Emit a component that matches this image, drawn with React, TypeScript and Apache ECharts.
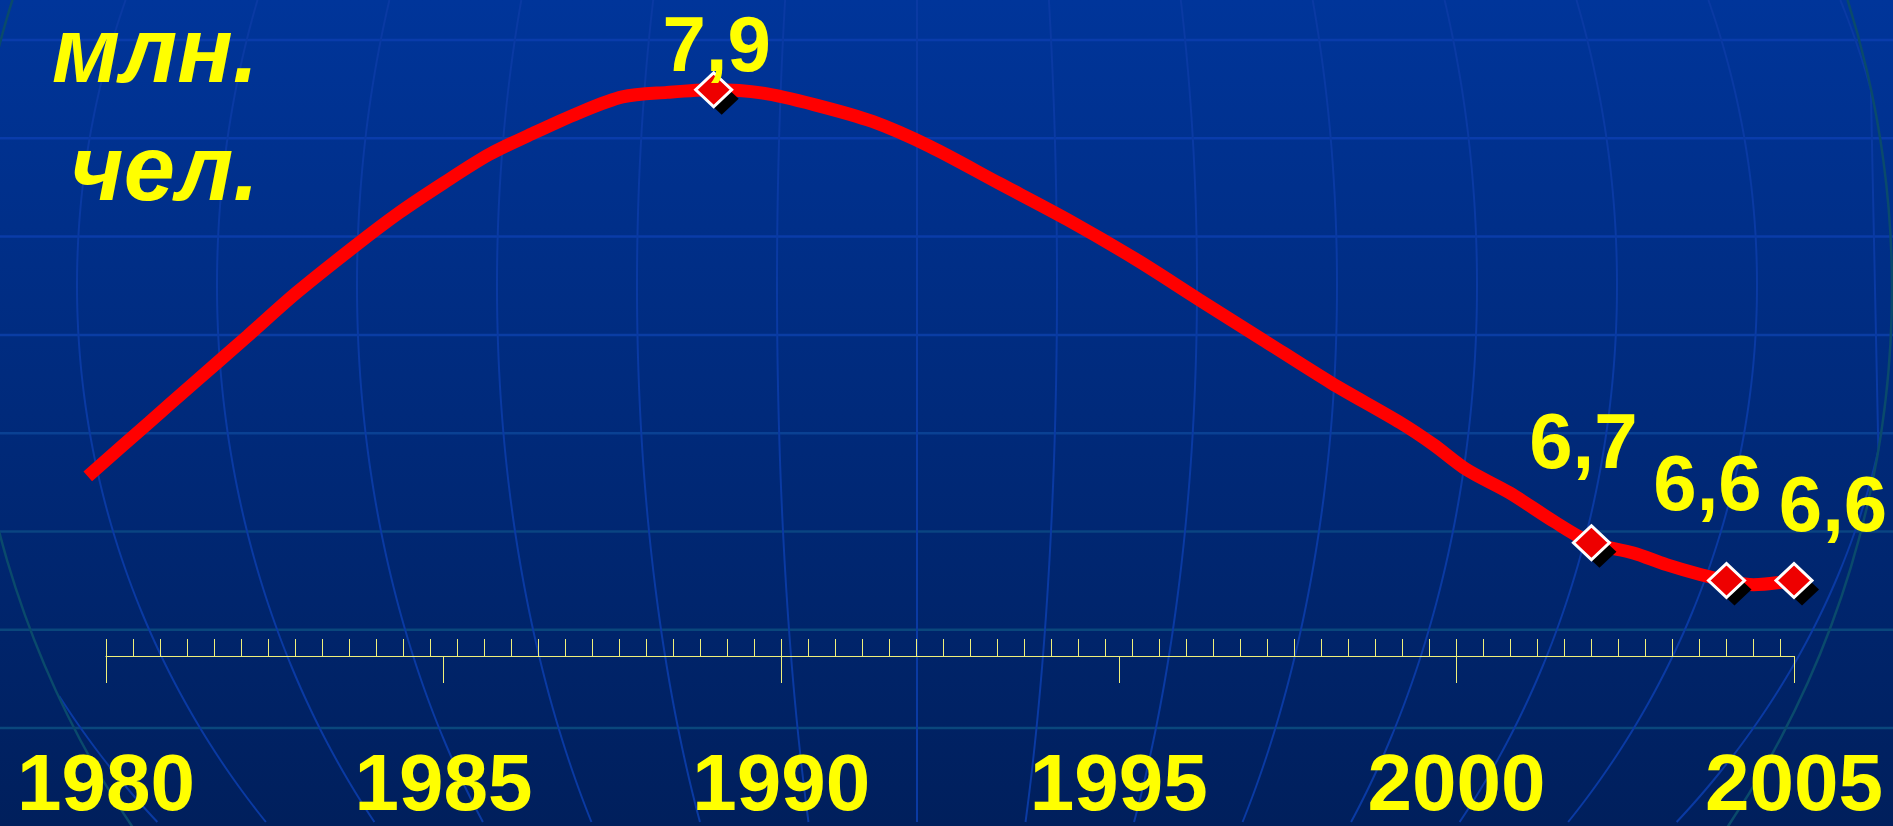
import React, { useEffect, useRef } from 'react';
import * as echarts from 'echarts';

// ---- data ----
const yearTicks = [1980, 1985, 1990, 1995, 2000, 2005];
const minorTickStep = 0.4;

const lineYears = [
  1979.73, 1980.64, 1981.3, 1982.1, 1982.82, 1983.68, 1984.34, 1985.0, 1985.67, 1986.33,
  1986.99, 1987.65, 1988.31, 1989.0, 1989.73, 1990.5, 1991.35, 1992.2, 1993.22, 1994.24,
  1995.26, 1996.19, 1997.13, 1998.15, 1999.17, 1999.66, 2000.15, 2000.79, 2001.44, 2002.0,
  2002.62, 2003.11, 2003.61, 2004.0, 2004.4, 2005.0,
];
const lineValues = [
  6.876, 7.019, 7.123, 7.248, 7.362, 7.485, 7.574, 7.653, 7.728, 7.785,
  7.838, 7.881, 7.893, 7.9, 7.891, 7.86, 7.816, 7.75, 7.653, 7.556,
  7.45, 7.344, 7.238, 7.123, 7.018, 6.96, 6.894, 6.832, 6.757, 6.7,
  6.673, 6.642, 6.616, 6.6, 6.589, 6.6,
];
const censusYears = [1989, 2002, 2004, 2005];
const censusValues = [7.9, 6.7, 6.6, 6.6];
const unitLines = ['млн.', 'чел.'];

// ---- styling (label nudges, sizes) ----
const labelOffsets = [
  [3, -46],
  [-8, -102],
  [-19, -98],
  [39, -77],
];

const W = 1893;
const H = 826;
const YELLOW = '#ffff00';
const AXIS_YELLOW = '#f0f07a';

// decorative globe background
const globe = { cx: 930, cy: 289, r: 962 };
const mer = { cx: 917, step: 140, y0: 285, ry: 850 };
const parallelYs = [40, 138.3, 236.6, 334.9, 433.2, 531.5, 629.8, 728.1];
const parallelColors = ['#0a3cab', '#0a3cab', '#0a3ca8', '#0a3da4', '#0a4193', '#0a4582', '#0a477c', '#0a477c'];

function meridianPoints(k: number) {
  const pts: number[][] = [];
  for (let y = 0; y <= H; y += 6) {
    const u = (y - mer.y0) / mer.ry;
    const x = mer.cx + mer.step * k * Math.sqrt(Math.max(0, 1 - u * u));
    if ((x - globe.cx) ** 2 + (y - globe.cy) ** 2 <= globe.r ** 2) pts.push([x, y]);
  }
  return pts;
}

function buildGraphics() {
  const els: any[] = [];
  els.push({
    type: 'rect',
    silent: true,
    z: -30,
    shape: { x: 0, y: 0, width: W, height: H },
    style: {
      fill: new echarts.graphic.LinearGradient(0, 0, 0, 1, [
        { offset: 0, color: '#00359a' },
        { offset: 1, color: '#001f5c' },
      ]),
    },
  });
  parallelYs.forEach((y, i) => {
    els.push({
      type: 'line',
      silent: true,
      z: -20,
      shape: { x1: 0, y1: y, x2: W, y2: y },
      style: { stroke: parallelColors[i], lineWidth: 2.5 },
    });
  });
  for (let k = -7; k <= 7; k++) {
    const pts = meridianPoints(k);
    if (pts.length < 2) continue;
    els.push({
      type: 'polyline',
      silent: true,
      z: -20,
      shape: { points: pts },
      style: { stroke: '#0a3aa3', lineWidth: 2, fill: 'none' },
    });
  }
  els.push({
    type: 'circle',
    silent: true,
    z: -19,
    shape: { cx: globe.cx, cy: globe.cy, r: globe.r },
    style: { stroke: '#0a4a6c', lineWidth: 2.5, fill: 'none' },
  });
  const unitPos = [
    [52, 50],
    [70, 168],
  ];
  unitLines.forEach((t, i) => {
    els.push({
      type: 'text',
      z: 20,
      x: unitPos[i][0],
      y: unitPos[i][1],
      style: {
        text: t,
        fill: YELLOW,
        fontFamily: '"Liberation Sans", Arial, sans-serif',
        fontSize: 92,
        fontWeight: 'bold',
        fontStyle: 'italic',
        align: 'left',
        verticalAlign: 'middle',
        lineHeight: 70,
      },
    });
  });
  return els;
}

function buildOption(): any {
  const lineData = lineYears.map((y, i) => [y, lineValues[i]]);
  const censusData = censusYears.map((y, i) => ({
    value: [y, censusValues[i]],
    label: { offset: labelOffsets[i] },
  }));
  const shadowData = censusYears.map((y, i) => [y, censusValues[i]]);
  const x0 = yearTicks[0];
  const x1 = yearTicks[yearTicks.length - 1];
  const plotLeft = 106;
  const plotRight = 99;
  const pxPerYear = (W - plotLeft - plotRight) / (x1 - x0);
  const minorMax = x0 + Math.floor((x1 - x0) / minorTickStep - 1e-9) * minorTickStep;
  const minorRight = W - (plotLeft + (minorMax - x0) * pxPerYear);
  // the data grid begins a little before 1980 so that the first line point is drawn
  const dataMin = Math.floor(Math.min(...lineYears) * 10) / 10;
  const dataLeft = plotLeft - (x0 - dataMin) * pxPerYear;

  const gridBase = { top: 52, bottom: 170, outerBoundsMode: 'none' };

  return {
    animation: false,
    graphic: buildGraphics(),
    grid: [
      { ...gridBase, left: plotLeft, right: plotRight },
      { ...gridBase, left: plotLeft, right: minorRight },
      { ...gridBase, left: dataLeft, right: plotRight },
    ],
    xAxis: [
      {
        type: 'value',
        gridIndex: 0,
        min: x0,
        max: x1,
        interval: yearTicks[1] - yearTicks[0],
        axisLine: { show: true, lineStyle: { color: AXIS_YELLOW, width: 1 } },
        axisTick: { show: true, inside: false, length: 27, lineStyle: { color: AXIS_YELLOW, width: 1 } },
        axisLabel: {
          show: true,
          margin: 95,
          color: YELLOW,
          fontFamily: '"Liberation Sans", Arial, sans-serif',
          fontWeight: 'bold',
          fontSize: 80,
          lineHeight: 62,
          formatter: (v: number) => String(Math.round(v)),
        },
        splitLine: { show: false },
      },
      {
        type: 'value',
        gridIndex: 1,
        min: x0,
        max: minorMax,
        interval: minorTickStep,
        axisLine: { show: false },
        axisTick: { show: true, inside: true, length: 17, lineStyle: { color: AXIS_YELLOW, width: 1 } },
        axisLabel: { show: false },
        splitLine: { show: false },
      },
      {
        type: 'value',
        gridIndex: 2,
        min: dataMin,
        max: x1,
        show: false,
        splitLine: { show: false },
      },
    ],
    yAxis: [
      { type: 'value', gridIndex: 0, min: 6.4, max: 8.0, show: false, splitLine: { show: false } },
      { type: 'value', gridIndex: 1, min: 0, max: 1, show: false, splitLine: { show: false } },
      { type: 'value', gridIndex: 2, min: 6.4, max: 8.0, show: false, splitLine: { show: false } },
    ],
    series: [
      {
        type: 'line',
        xAxisIndex: 2,
        yAxisIndex: 2,
        data: lineData,
        smooth: 0.3,
        showSymbol: false,
        clip: false,
        z: 3,
        lineStyle: { color: '#ff0000', width: 13, cap: 'butt', opacity: 1 },
        silent: true,
      },
      {
        type: 'scatter',
        xAxisIndex: 2,
        yAxisIndex: 2,
        data: shadowData,
        symbol: 'diamond',
        symbolSize: [34, 32],
        symbolOffset: [8, 9],
        clip: false,
        z: 4,
        itemStyle: { color: '#000000', opacity: 1 },
        silent: true,
      },
      {
        type: 'scatter',
        xAxisIndex: 2,
        yAxisIndex: 2,
        data: censusData,
        symbol: 'diamond',
        symbolSize: [36, 34],
        clip: false,
        z: 5,
        itemStyle: { color: '#ee0000', borderColor: '#ffffff', borderWidth: 3, opacity: 1 },
        label: {
          show: true,
          position: 'inside',
          color: YELLOW,
          opacity: 1,
          textBorderWidth: 0,
          textBorderColor: 'transparent',
          fontFamily: '"Liberation Sans", Arial, sans-serif',
          fontWeight: 'bold',
          fontSize: 78,
          lineHeight: 62,
          formatter: (p: any) => Number(p.value[1]).toFixed(1).replace('.', ','),
        },
        silent: true,
      },
    ],
  };
}

export default function App() {
  const ref = useRef<HTMLDivElement>(null);
  useEffect(() => {
    document.body.style.margin = '0';
    document.body.style.overflow = 'hidden';
    const chart = echarts.init(ref.current as HTMLDivElement, null, { renderer: 'svg' });
    chart.setOption(buildOption());
    return () => {
      chart.dispose();
    };
  }, []);
  return <div ref={ref} style={{ width: W, height: H }} />;
}
